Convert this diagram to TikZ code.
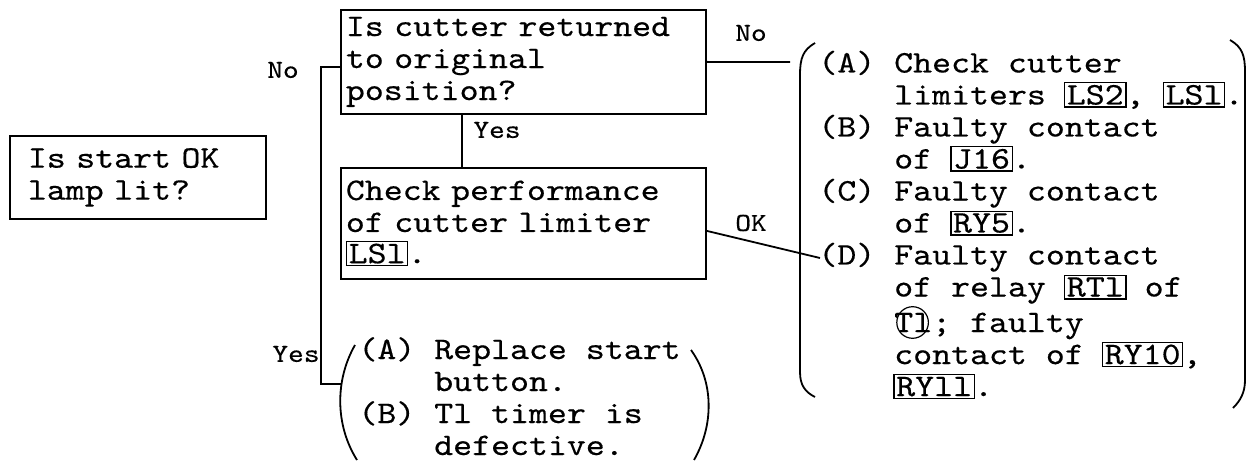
\documentclass[tikz,border=0pt]{standalone}
\usepackage{fontspec}
\setmainfont{lmmono10-regular.otf}[FakeStretch=1.15,FakeBold=0.4]
\setlength{\fboxsep}{0.8pt}
\setlength{\fboxrule}{0.6pt}
\newcommand{\partno}[1]{\kern-0.4pt\fbox{#1}\kern-0.4pt}
\newcommand{\ringed}[1]{\tikz[baseline=(rg.base)]{\node[inner sep=0pt](rg){#1};\draw[line width=0.6pt] ([xshift=-0.3pt]rg.center) circle (7.9pt);}}
\tikzset{
  qbox/.style={draw, line width=0.9pt, anchor=north west, align=left, inner ysep=0pt},
  lbl/.style={font=\fontsize{13}{14}\selectfont, inner sep=0pt},
  link/.style={line width=0.9pt},
  brk/.style={line width=0.9pt},
}

\begin{document}
\begin{tikzpicture}[x=0.5pt, y=-0.5pt, font=\fontsize{15.7}{16}\selectfont]
  \useasboundingbox (0,0) rectangle (1251,460);

  % question boxes
  \node[qbox, inner xsep=9pt, text width=110pt, minimum height=41.5pt] (lampq) at (9,135)
    {Is start OK\\lamp lit?};
  \node[qbox, inner xsep=2.5pt, text width=177.5pt, minimum height=52pt] (cutq) at (340,9)
    {Is cutter returned\\to original\\position?};
  \node[qbox, inner xsep=2.5pt, text width=177.5pt, minimum height=55.5pt] (checkq) at (340,167)
    {Check performance\\of cutter limiter\\\partno{LSl}.};

  % remedies
  \node[anchor=base west, inner sep=0pt] (causes) at (818,72.5)
    {\begin{tabular}[t]{@{}l@{\ }l@{}}
      (A) & Check cutter\\
          & limiters \partno{LS2}, \partno{LSl}.\\
      (B) & Faulty contact\\
          & of \partno{J16}.\\
      (C) & Faulty contact\\
          & of \partno{RY5}.\\
      (D) & Faulty contact\\
          & of relay \partno{RTl}\ of\\
          & \ringed{Tl}; faulty\\
          & contact of \partno{RY10},\\
          & \partno{RYll}.
    \end{tabular}};
  \node[anchor=base west, inner sep=0pt] (repair) at (358,359)
    {\begin{tabular}[t]{@{}l@{\ }l@{}}
      (A) & Replace start\\
          & button.\\
      (B) & Tl timer is\\
          & defective.
    \end{tabular}};

  % brackets
  \draw[brk] (815,43) .. controls (803,50) and (800,58) .. (800,75) -- (800,372)
    .. controls (800,385) and (805,392) .. (815,397);
  \draw[brk] (1230,40) .. controls (1242,47) and (1245,55) .. (1245,72) -- (1245,380)
    .. controls (1245,393) and (1240,401) .. (1233,408);
  \draw[brk] (355,345) .. controls (335,380) and (335,425) .. (357,460);
  \draw[brk] (691,350) .. controls (714,382) and (714,425) .. (694,460);

  % connectors
  \coordinate (nojoin) at (321,67);
  \coordinate (yesjoin) at (321,384);
  \coordinate (repairin) at (341,384);
  \coordinate (causesin) at (790,62);
  \coordinate (dcause) at (820,258);
  \draw[link] (cutq.west |- nojoin) -- (nojoin) -- (yesjoin) -- (repairin);
  \draw[link] (cutq.south -| 462,0) -- (checkq.north -| 462,0);
  \draw[link] (cutq.east) -- (causesin);
  \draw[link] ([yshift=-3.75pt]checkq.east) -- (dcause);

  \node[lbl] (nolft) at (283,70) {No};
  \node[lbl] (yeslft) at (296,354) {Yes};
  \node[lbl] (yesmid) at (497,130) {Yes};
  \node[lbl] (norgt) at (751,33) {No};
  \node[lbl] (okrgt) at (751,223) {OK};
\end{tikzpicture}
\end{document}
